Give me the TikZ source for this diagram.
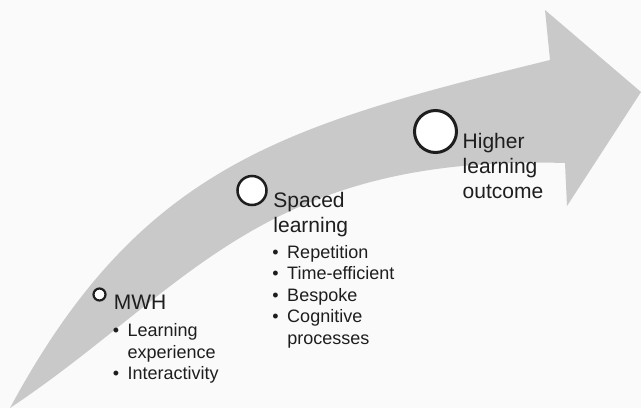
\documentclass[tikz,border=0pt]{standalone}
\usepackage{fontspec}
\setmainfont{Liberation Sans}
\usetikzlibrary{positioning}

\definecolor{bandgray}{RGB}{201,201,201}
\definecolor{bggray}{RGB}{250,250,250}
\definecolor{inkgray}{RGB}{30,30,30}

\tikzset{
  stage/.style={circle, draw=inkgray, fill=white, inner sep=0pt},
  lbl/.style={inner sep=0pt, align=left, text=inkgray, font=\fontsize{21}{25}\selectfont},
  blist/.style={inner sep=0pt, text=inkgray, font=\fontsize{18}{21.5}\selectfont}
}

\begin{document}
\begin{tikzpicture}[x=1pt, y=-1pt]
    % Background
    \fill[bggray] (0,0) rectangle (641,408);
    \useasboundingbox (0,0) rectangle (641,408);

    % Curved arrow
    \fill[bandgray] (10,408) .. controls (141,164.5) and (286,125) .. (550,60)
        -- (545,10) -- (641,92) -- (567,206) -- (565,163)
        .. controls (261,154) and (187,290) .. (10,408) -- cycle;

    % Stages
    \node[stage, minimum size=12pt, line width=2.2pt] (c1) at (99.5,294.5) {};
    \node[stage, minimum size=29pt, line width=2.5pt] (c2) at (252,190.5) {};
    \node[stage, minimum size=42pt, line width=3pt] (c3) at (435.5,131.5) {};

    % Labels
    \node[lbl, below right=0pt and 7pt of c1.east] (mwh) {MWH};
    \node[lbl, below right=2pt and 5.5pt of c2.east] (spaced) {Spaced\\learning};
    \node[lbl, below right=1.5pt and 4.5pt of c3.east] (higher) {Higher\\learning\\outcome};

    % Bullet lists
    \node[blist, below right=12pt and -1pt of mwh.south west] (mwhlist) {%
        \begin{tabular}[t]{@{}l@{\hspace{8.5pt}}l@{}}
        \textbullet & Learning\\
                    & experience\\
        \textbullet & Interactivity
        \end{tabular}};
    \node[blist, below right=5.6pt and -1pt of spaced.south west] (spacedlist) {%
        \begin{tabular}[t]{@{}l@{\hspace{8.5pt}}l@{}}
        \textbullet & Repetition\\
        \textbullet & Time-efficient\\
        \textbullet & Bespoke\\
        \textbullet & Cognitive\\
                    & processes
        \end{tabular}};
\end{tikzpicture}
\end{document}
